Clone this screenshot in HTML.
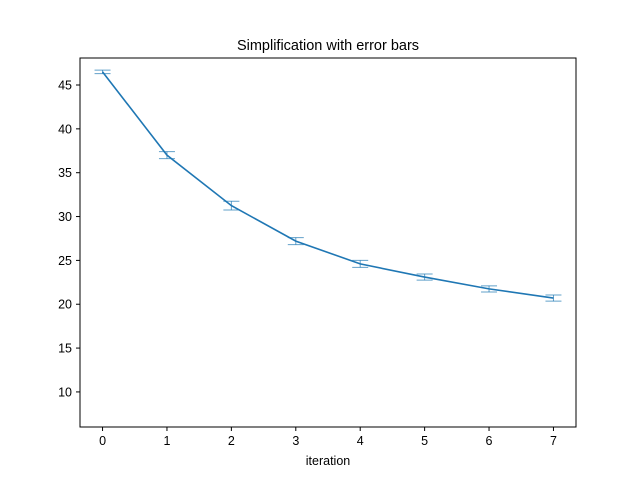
<!DOCTYPE html>
<html><head><meta charset="utf-8"><style>
html,body{margin:0;padding:0;background:#fff;}
svg{display:block;font-family:"Liberation Sans","DejaVu Sans",sans-serif;}
</style></head><body>
<svg id="chart" width="640" height="480" xmlns="http://www.w3.org/2000/svg">
<rect x="0" y="0" width="640" height="480" fill="#fff"/>
<text x="328" y="50" text-anchor="middle" font-size="14.5">Simplification with error bars</text>
<g id="plot"></g>
<rect x="80" y="58" width="496" height="369" fill="none" stroke="#000" stroke-width="1"/>
<text x="328" y="465" text-anchor="middle" font-size="12.5">iteration</text>
</svg>
<script>
const iterations=[0,1,2,3,4,5,6,7];
const values=[46.5,37.0,31.25,27.2,24.6,23.1,21.75,20.7];
const errors=[0.2,0.4,0.5,0.4,0.4,0.35,0.35,0.35];
const xTicks=[0,1,2,3,4,5,6,7];
const yTicks=[10,15,20,25,30,35,40,45];
const L=80,R=576,T=58,B=427,xmin=-0.35,xmax=7.35,ymin=6.0,ymax=48.08;
const sx=v=>L+(v-xmin)/(xmax-xmin)*(R-L);
const sy=v=>B-(v-ymin)/(ymax-ymin)*(B-T);
const NS="http://www.w3.org/2000/svg";
const svg=document.getElementById('chart');
const g=document.getElementById('plot');
function mk(tag,attrs,parent){const e=document.createElementNS(NS,tag);for(const k in attrs)e.setAttribute(k,attrs[k]);(parent||g).appendChild(e);return e;}
xTicks.forEach(t=>{
 const l=mk('line',{x1:sx(t),x2:sx(t),y1:B,y2:B+4,stroke:'#000'},svg);
 
 
 const tx=mk('text',{x:sx(t),y:B+18,'text-anchor':'middle','font-size':'12.5'},svg);
 tx.textContent=t;
 
 
});
yTicks.forEach(t=>{
 const l=mk('line',{x1:L-4,x2:L,y1:sy(t),y2:sy(t),stroke:'#000'},svg);
 
 
 const tx=mk('text',{x:L-8,y:sy(t)+4.5,'text-anchor':'end','font-size':'12.5'},svg);
 tx.textContent=t;
 
 
});
iterations.forEach((x,i)=>{
 const cx=sx(x),y1=sy(values[i]-errors[i]),y2=sy(values[i]+errors[i]);
 const eg=mk('g',{stroke:'#1f77b4','stroke-width':'1','stroke-opacity':'0.7'});
 
 
 mk('line',{x1:cx,x2:cx,y1:y1,y2:y2},eg);
 mk('line',{x1:cx-8,x2:cx+8,y1:y1,y2:y1},eg);
 mk('line',{x1:cx-8,x2:cx+8,y1:y2,y2:y2},eg);
});
const pts=iterations.map((x,i)=>sx(x)+','+sy(values[i])).join(' ');
const pl=mk('polyline',{points:pts,fill:'none',stroke:'#1f77b4','stroke-width':'1.6'});


</script>
</body></html>
